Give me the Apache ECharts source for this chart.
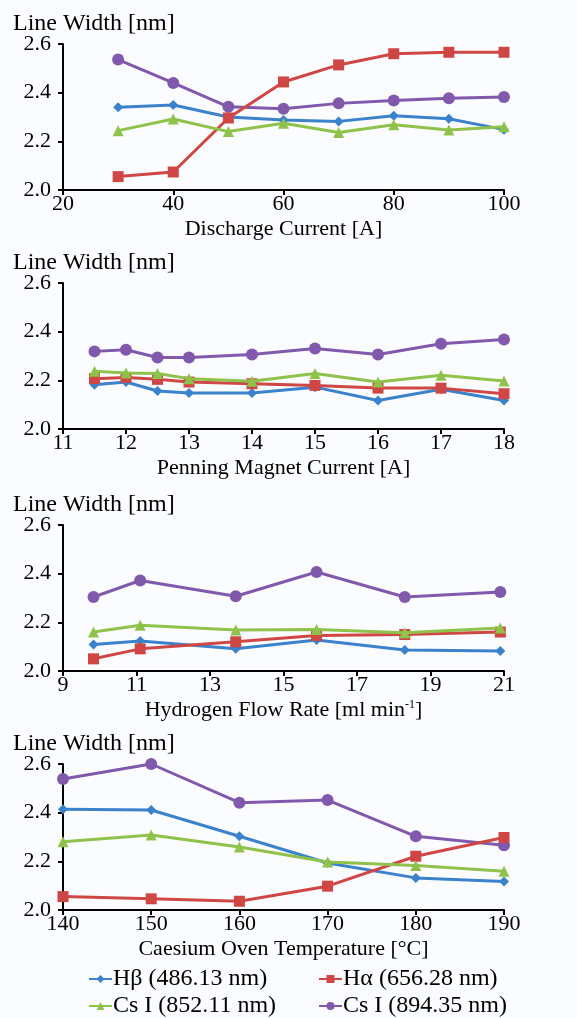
<!DOCTYPE html>
<html>
<head>
<meta charset="utf-8">
<script src="https://cdn.jsdelivr.net/npm/echarts@6/dist/echarts.min.js"></script>
<style>
html,body{margin:0;padding:0;background:#fbfcff;}
#chart{width:577px;height:1018px;}
</style>
</head>
<body>
<div id="chart"></div>
<script>
// ---- Data ----
const seriesNames = ['H\u03b2 (486.13 nm)', 'H\u03b1 (656.28 nm)', 'Cs I (852.11 nm)', 'Cs I (894.35 nm)'];

// Panel 1: Discharge Current [A]
const p1X = [30, 40, 50, 60, 70, 80, 90, 100];
const p1Hb = [2.340, 2.349, 2.300, 2.288, 2.282, 2.305, 2.293, 2.248];
const p1Ha = [2.055, 2.074, 2.296, 2.444, 2.514, 2.560, 2.566, 2.566];
const p1Cs852 = [2.244, 2.292, 2.240, 2.274, 2.236, 2.268, 2.247, 2.260];
const p1Cs894 = [2.536, 2.440, 2.342, 2.334, 2.356, 2.368, 2.377, 2.382];

// Panel 2: Penning Magnet Current [A]
const p2X = [11.5, 12, 12.5, 13, 14, 15, 16, 17, 18];
const p2Hb = [2.182, 2.193, 2.156, 2.148, 2.148, 2.172, 2.117, 2.163, 2.117];
const p2Ha = [2.207, 2.212, 2.204, 2.193, 2.186, 2.179, 2.168, 2.168, 2.145];
const p2Cs852 = [2.237, 2.230, 2.228, 2.207, 2.196, 2.228, 2.193, 2.221, 2.197];
const p2Cs894 = [2.319, 2.326, 2.294, 2.294, 2.306, 2.331, 2.306, 2.350, 2.368];

// Panel 3: Hydrogen Flow Rate [ml min-1]
const p3X = [9.83, 11.1, 13.7, 15.9, 18.3, 20.9];
const p3Hb = [2.109, 2.123, 2.091, 2.127, 2.086, 2.082];
const p3Ha = [2.050, 2.091, 2.120, 2.146, 2.150, 2.160];
const p3Cs852 = [2.160, 2.188, 2.168, 2.171, 2.157, 2.177];
const p3Cs894 = [2.304, 2.372, 2.307, 2.407, 2.304, 2.325];

// Panel 4: Caesium Oven Temperature [°C]
const p4X = [140, 150, 160, 170, 180, 190];
const p4Hb = [2.414, 2.411, 2.303, 2.193, 2.132, 2.117];
const p4Ha = [2.055, 2.046, 2.036, 2.098, 2.221, 2.298];
const p4Cs852 = [2.280, 2.308, 2.259, 2.197, 2.183, 2.159];
const p4Cs894 = [2.538, 2.600, 2.441, 2.452, 2.303, 2.266];

const xTitles = ['Discharge Current [A]', 'Penning Magnet Current [A]', 'Hydrogen Flow Rate [ml min{sup|-1}]', 'Caesium Oven Temperature [\u00b0C]'];
const xRanges = [[20, 100, 20], [11, 18, 1], [9, 21, 2], [140, 190, 10]];
const yRange = [2.0, 2.6, 0.2];
const yTitle = 'Line Width [nm]';

// ---- Styling ----
const FONT = '"Liberation Serif", "Times New Roman", serif';
const colors = ['#3a82cc', '#cf4744', '#8fc24a', '#8059ad'];
const symbols = ['diamond', 'rect', 'triangle', 'circle'];
const symSizes = [10, 11, 11, 12];
const gridTops = [44, 283, 525, 764];
const gridH = 146;

const panels = [
  {x: p1X, ys: [p1Hb, p1Ha, p1Cs852, p1Cs894]},
  {x: p2X, ys: [p2Hb, p2Ha, p2Cs852, p2Cs894]},
  {x: p3X, ys: [p3Hb, p3Ha, p3Cs852, p3Cs894]},
  {x: p4X, ys: [p4Hb, p4Ha, p4Cs852, p4Cs894]}
];

const grid = [], xAxis = [], yAxis = [], series = [], title = [];
panels.forEach((p, i) => {
  grid.push({left: 63, width: 441, top: gridTops[i], height: gridH});
  xAxis.push({
    type: 'value', gridIndex: i,
    min: xRanges[i][0], max: xRanges[i][1], interval: xRanges[i][2],
    axisLine: {show: true, lineStyle: {color: '#000', width: 2}},
    axisTick: {show: true, inside: false, length: 5, lineStyle: {color: '#000', width: 2}},
    axisLabel: {color: '#000', fontFamily: FONT, fontSize: 22, margin: 3},
    splitLine: {show: false},
    name: xTitles[i], nameLocation: 'middle', nameGap: 28,
    nameTextStyle: {color: '#000', fontFamily: FONT, fontSize: 22,
      rich: {sup: {fontSize: 12, fontFamily: FONT, color: '#000', verticalAlign: 'top', padding: [0, 0, 8, 0]}}}
  });
  yAxis.push({
    type: 'value', gridIndex: i,
    min: yRange[0], max: yRange[1], interval: yRange[2],
    axisLine: {show: true, lineStyle: {color: '#000', width: 2}},
    axisTick: {show: true, inside: false, length: 5, lineStyle: {color: '#000', width: 2}},
    axisLabel: {color: '#000', fontFamily: FONT, fontSize: 22, margin: 12,
      formatter: v => v.toFixed(1)},
    splitLine: {show: false}
  });
  title.push({
    text: yTitle, left: 8, top: gridTops[i] - 37,
    textStyle: {color: '#000', fontFamily: FONT, fontSize: 24, fontWeight: 'normal'}
  });
  p.ys.forEach((ys, k) => {
    series.push({
      name: seriesNames[k], type: 'line',
      xAxisIndex: i, yAxisIndex: i,
      data: p.x.map((xv, j) => [xv, ys[j]]),
      symbol: symbols[k], symbolSize: symSizes[k],
      lineStyle: {color: colors[k], width: 3},
      itemStyle: {color: colors[k]},
      z: 2 + (k === 3 ? 0 : k)
    });
  });
});

const legendPos = [[83, 962], [313, 962], [83, 989], [313, 989]];
const legend = seriesNames.map((n, k) => ({
  data: [n], left: legendPos[k][0], top: legendPos[k][1],
  itemWidth: 23, itemHeight: 10, itemGap: 0,
  textStyle: {color: '#000', fontFamily: FONT, fontSize: 24, padding: [0, 0, 0, -4]},
  selectedMode: false
}));

const chart = echarts.init(document.getElementById('chart'), null, {renderer: 'canvas'});
chart.setOption({
  backgroundColor: '#fbfcff',
  animation: false,
  title, grid, xAxis, yAxis, series, legend
});
</script>
</body>
</html>
